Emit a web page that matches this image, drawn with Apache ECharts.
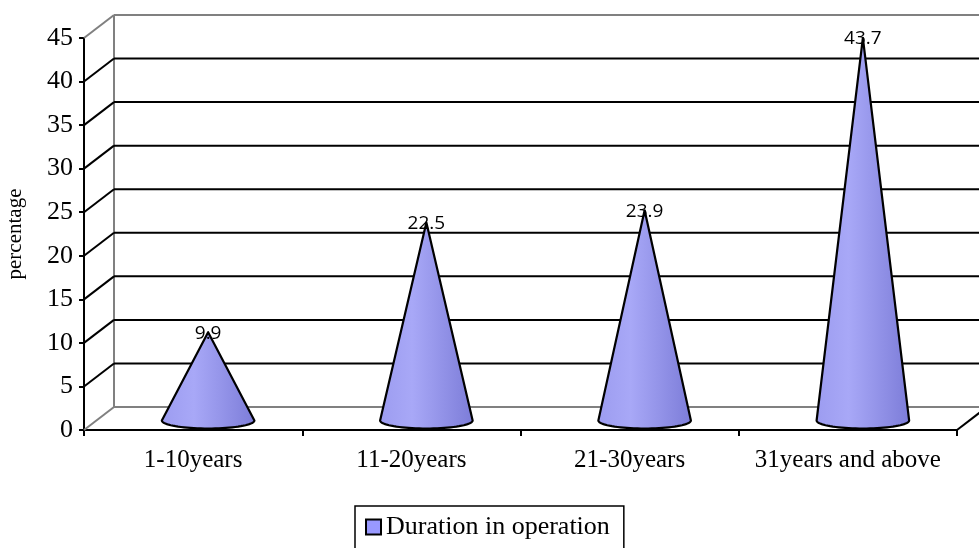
<!DOCTYPE html>
<html>
<head>
<meta charset="utf-8">
<title>Duration in operation</title>
<script src="https://cdn.jsdelivr.net/npm/echarts@6/dist/echarts.min.js"></script>
<style>
  html, body { margin: 0; padding: 0; background: #ffffff; }
  #chart { width: 979px; height: 548px; }
</style>
</head>
<body>
<div id="chart"></div>
<script>
// Chart data
const categories = ['1-10years', '11-20years', '21-30years', '31years and above'];
const durationValues = [9.9, 22.5, 23.9, 43.7];
const seriesName = 'Duration in operation';
const yTicks = [0, 5, 10, 15, 20, 25, 30, 35, 40, 45];

// 3D look: pixel offset of the back wall relative to the front axis plane
const DEPTH_X = 30;
const DEPTH_Y = -23;
const SERIF = '"Liberation Serif", "Times New Roman", serif';
const LINE_W = 2;

const chart = echarts.init(document.getElementById('chart'));

// Back wall, side gridlines and floor edges
function renderWalls(params, api) {
  const cs = params.coordSys;
  const v = api.value(1);
  const y = api.coord([0, v])[1];
  const x0 = cs.x;
  const edge = (v === yTicks[0] || v === yTicks[yTicks.length - 1]);
  const col = edge ? '#808080' : '#000000';
  const children = [
    { type: 'line', shape: { x1: x0, y1: y, x2: x0 + DEPTH_X, y2: y + DEPTH_Y },
      style: { stroke: col, lineWidth: LINE_W } },
    { type: 'line', shape: { x1: x0 + DEPTH_X, y1: y + DEPTH_Y, x2: api.getWidth() + 5, y2: y + DEPTH_Y },
      style: { stroke: col, lineWidth: LINE_W } }
  ];
  if (params.dataIndex === 0) {
    const yTop = api.coord([0, yTicks[yTicks.length - 1]])[1];
    children.push({ type: 'line',
      shape: { x1: x0 + DEPTH_X, y1: yTop + DEPTH_Y, x2: x0 + DEPTH_X, y2: y + DEPTH_Y },
      style: { stroke: '#808080', lineWidth: LINE_W } });
    const xr = cs.x + cs.width;
    children.push({ type: 'line',
      shape: { x1: xr, y1: y, x2: xr + DEPTH_X, y2: y + DEPTH_Y },
      style: { stroke: '#000000', lineWidth: LINE_W } });
  }
  return { type: 'group', children: children };
}

// Cones placed half-way into the depth of the plot
function renderCone(params, api) {
  const idx = api.value(0);
  const val = api.value(1);
  const apex = api.coord([idx, val]);
  const base = api.coord([idx, 0]);
  const dx = DEPTH_X / 2, dy = DEPTH_Y / 2;
  const cx = base[0] + dx;
  const cy = base[1] + dy + 2;
  const ax = apex[0] + dx;
  const ay = apex[1] + dy;
  const rx = api.size([1, 0])[0] * 0.212;
  const ry = 8;
  const pts = [[ax, ay]];
  const steps = 40;
  for (let k = 0; k <= steps; k++) {
    const t = Math.PI - Math.PI * k / steps;
    pts.push([cx + rx * Math.cos(t), cy + ry * Math.sin(t)]);
  }
  return {
    type: 'group',
    children: [
      { type: 'polygon', shape: { points: pts },
        style: {
          fill: new echarts.graphic.LinearGradient(0, 0, 1, 0, [
            { offset: 0, color: '#9c9cf0' },
            { offset: 0.35, color: '#a8a8f7' },
            { offset: 1, color: '#7c7cd8' }
          ]),
          stroke: '#000000', lineWidth: 2.2, lineJoin: 'round'
        } },
      { type: 'text', x: ax, y: ay + 1,
        style: { text: String(val), fill: '#000000', align: 'center', verticalAlign: 'middle',
          font: '19px "Open Sans", "Liberation Sans", sans-serif' } }
    ]
  };
}

chart.setOption({
  animation: false,
  backgroundColor: '#ffffff',
  grid: { left: 84, right: 22, top: 38, bottom: 118, containLabel: false, outerBoundsMode: 'none' },
  legend: {
    data: [seriesName],
    left: 355,
    top: 506,
    padding: [8, 14, 40, 10],
    borderColor: '#000000',
    borderWidth: 1.5,
    icon: 'rect',
    itemWidth: 15,
    itemHeight: 15,
    itemGap: 10,
    textStyle: { fontFamily: SERIF, fontSize: 26, color: '#000000' }
  },
  xAxis: {
    type: 'category',
    data: categories,
    axisLine: { lineStyle: { color: '#000000', width: LINE_W } },
    axisTick: { show: true, length: 6, interval: 0, lineStyle: { color: '#000000', width: LINE_W } },
    axisLabel: { fontFamily: SERIF, fontSize: 25, color: '#000000', margin: 18, interval: 0 },
    splitLine: { show: false }
  },
  yAxis: {
    type: 'value',
    min: 0,
    max: 45,
    interval: 5,
    name: 'percentage',
    nameLocation: 'middle',
    nameRotate: 90,
    nameGap: 58,
    nameTextStyle: { fontFamily: SERIF, fontSize: 21, color: '#000000' },
    axisLine: { show: true, lineStyle: { color: '#000000', width: LINE_W } },
    axisTick: { show: true, length: 5, lineStyle: { color: '#000000', width: LINE_W } },
    axisLabel: { fontFamily: SERIF, fontSize: 26, color: '#000000', margin: 11 },
    splitLine: { show: false }
  },
  series: [
    {
      type: 'custom',
      name: 'walls',
      silent: true,
      z: 1,
      renderItem: renderWalls,
      data: yTicks.map(v => [0, v]),
      encode: { x: 0, y: 1 }
    },
    {
      type: 'custom',
      name: seriesName,
      z: 3,
      itemStyle: { color: '#9999ff', borderColor: '#000000', borderWidth: 2 },
      renderItem: renderCone,
      data: durationValues.map((v, i) => [i, v]),
      encode: { x: 0, y: 1 }
    }
  ]
});
</script>
</body>
</html>
